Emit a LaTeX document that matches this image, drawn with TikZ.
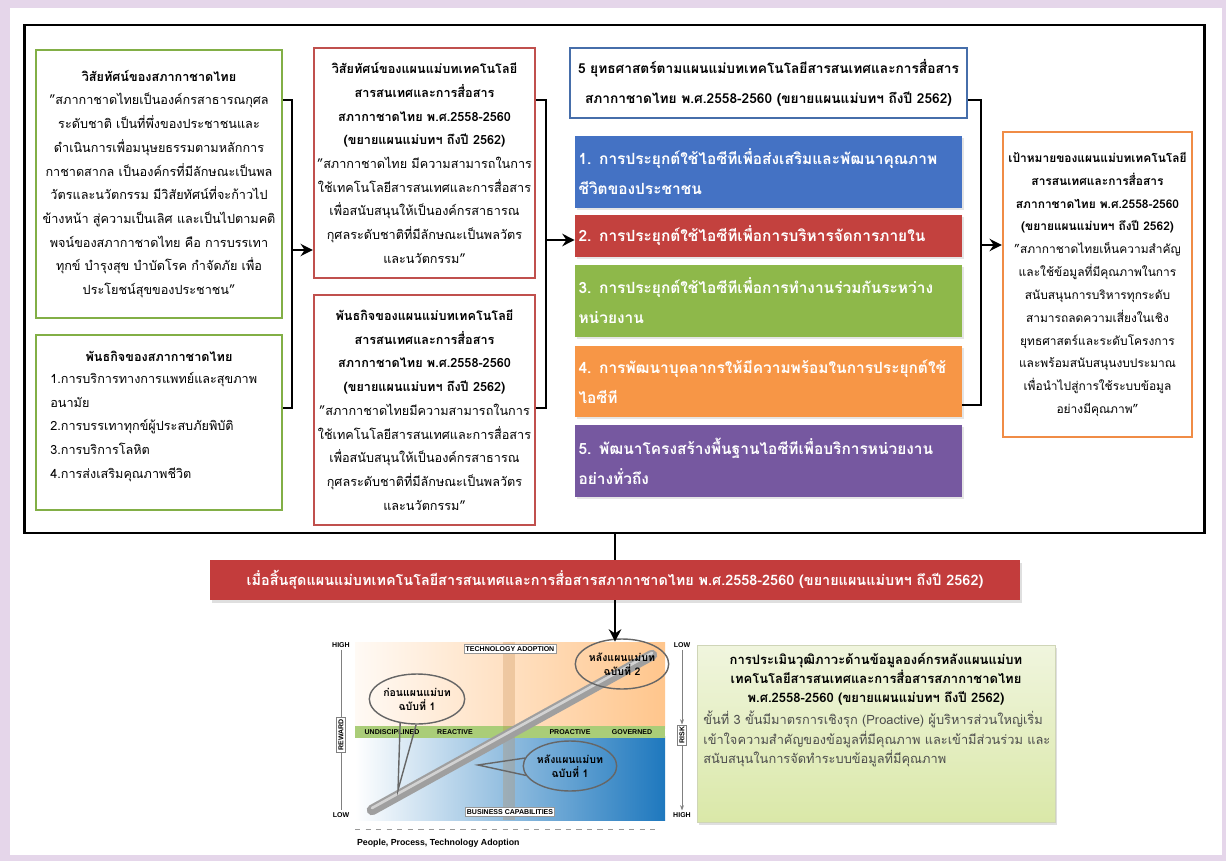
\documentclass[tikz,border=0pt]{standalone}
\usepackage{fontspec}
\setmainfont{Loma}[Script=Thai]
\newfontfamily\latinfont{Liberation Sans}
\usetikzlibrary{positioning,arrows.meta,shapes.geometric,shadows}

\definecolor{lavbg}{RGB}{229,214,234}
\definecolor{boxgreen}{RGB}{130,175,70}
\definecolor{boxred}{RGB}{192,80,77}
\definecolor{boxblue}{RGB}{70,110,170}
\definecolor{boxorange}{RGB}{240,140,70}
\definecolor{sblue}{RGB}{68,114,196}
\definecolor{sred}{RGB}{195,65,62}
\definecolor{sgreen}{RGB}{142,184,74}
\definecolor{sorange}{RGB}{247,150,70}
\definecolor{spurple}{RGB}{118,88,160}
\definecolor{bandred}{RGB}{195,60,60}
\definecolor{chartblue}{RGB}{30,120,190}
\definecolor{chartgreen}{RGB}{170,205,120}
\definecolor{notelight}{RGB}{240,245,222}
\definecolor{notedark}{RGB}{218,232,168}

\tikzset{
  boxtext/.style={inner sep=0pt, align=center, font=\fontsize{7.2}{13.5}\selectfont},
  greenbox/.style={rectangle, draw=boxgreen, line width=1.3pt, fill=white, boxtext},
  redbox/.style={rectangle, draw=boxred, line width=1.3pt, fill=white, boxtext, minimum width=4.42cm, minimum height=4.6cm},
  stratbar/.style={rectangle, fill=#1, text=white, minimum width=7.74cm, text width=7.6cm, inner xsep=2pt, align=left,
    font=\bfseries\fontsize{8.8}{17}\selectfont, drop shadow={opacity=0.2, shadow xshift=1pt, shadow yshift=-1pt}},
  brk/.style={line width=1.6pt},
  arr/.style={brk, -{Stealth[length=7pt, width=7pt]}},
  bubble/.style={ellipse, draw=black!60, thick, minimum width=1.8cm, minimum height=1cm, inner sep=0pt,
    align=center, font=\bfseries\fontsize{6}{8}\selectfont},
  chartlbl/.style={font=\latinfont\bfseries\fontsize{4}{5}\selectfont, inner sep=1pt}
}

\begin{document}
\begin{tikzpicture}[x=0.02cm, y=-0.02cm]
  \useasboundingbox (0,0) rectangle (1226,861);
  \fill[lavbg] (0,0) rectangle (1226,861);
  \fill[white] (10,8) rectangle (1222,855);

  % Frame
  \node (frame) [draw, line width=1.6pt, minimum width=23.62cm, minimum height=10.16cm] at (614.5,279) {};

  % Nodes
  \node (vision) [greenbox, minimum width=4.92cm, minimum height=5.36cm] at (159,184)
    {\textbf{วิสัยทัศน์ของสภากาชาดไทย}\\
     "สภากาชาดไทยเป็นองค์กรสาธารณกุศล\\
     ระดับชาติ เป็นที่พึ่งของประชาชนและ\\
     ดำเนินการเพื่อมนุษยธรรมตามหลักการ\\
     กาชาดสากล เป็นองค์กรที่มีลักษณะเป็นพล\\
     วัตรและนวัตกรรม มีวิสัยทัศน์ที่จะก้าวไป\\
     ข้างหน้า สู่ความเป็นเลิศ และเป็นไปตามคติ\\
     พจน์ของสภากาชาดไทย คือ การบรรเทา\\
     ทุกข์ บำรุงสุข บำบัดโรค กำจัดภัย เพื่อ\\
     ประโยชน์สุขของประชาชน"};
  \node (mission) [greenbox, minimum width=4.92cm, minimum height=3.5cm] at (159,422.5) {};
  \node (missiontitle) [boxtext] at (159,356) {\textbf{พันธกิจของสภากาชาดไทย}};
  \node (missionlist) [boxtext, align=left, anchor=north west] at (50,372)
    {1.การบริการทางการแพทย์และสุขภาพ\\
     อนามัย\\
     2.การบรรเทาทุกข์ผู้ประสบภัยพิบัติ\\
     3.การบริการโลหิต\\
     4.การส่งเสริมคุณภาพชีวิต};

  \node (planvision) [redbox] at (424.5,163)
    {\textbf{วิสัยทัศน์ของแผนแม่บทเทคโนโลยี}\\
     \textbf{สารสนเทศและการสื่อสาร}\\
     \textbf{สภากาชาดไทย พ.ศ.2558-2560}\\
     \textbf{(ขยายแผนแม่บทฯ ถึงปี 2562)}\\
     "สภากาชาดไทย มีความสามารถในการ\\
     ใช้เทคโนโลยีสารสนเทศและการสื่อสาร\\
     เพื่อสนับสนุนให้เป็นองค์กรสาธารณ\\
     กุศลระดับชาติที่มีลักษณะเป็นพลวัตร\\
     และนวัตกรรม"};
  \node (planmission) [redbox] at (424.5,410)
    {\textbf{พันธกิจของแผนแม่บทเทคโนโลยี}\\
     \textbf{สารสนเทศและการสื่อสาร}\\
     \textbf{สภากาชาดไทย พ.ศ.2558-2560}\\
     \textbf{(ขยายแผนแม่บทฯ ถึงปี 2562)}\\
     "สภากาชาดไทยมีความสามารถในการ\\
     ใช้เทคโนโลยีสารสนเทศและการสื่อสาร\\
     เพื่อสนับสนุนให้เป็นองค์กรสาธารณ\\
     กุศลระดับชาติที่มีลักษณะเป็นพลวัตร\\
     และนวัตกรรม"};

  \node (strathead) [rectangle, draw=boxblue, line width=1.3pt, fill=white, minimum width=7.94cm, minimum height=1.4cm,
    align=center, font=\bfseries\fontsize{7.8}{17}\selectfont] at (768.5,83)
    {5 ยุทธศาสตร์ตามแผนแม่บทเทคโนโลยีสารสนเทศและการสื่อสาร\\
     สภากาชาดไทย พ.ศ.2558-2560 (ขยายแผนแม่บทฯ ถึงปี 2562)};
  \node (s1) [stratbar=sblue, minimum height=1.44cm] at (768.5,172)
    {1. การประยุกต์ใช้ไอซีทีเพื่อส่งเสริมและพัฒนาคุณภาพ\\ชีวิตของประชาชน};
  \node (s2) [stratbar=sred, minimum height=0.84cm] at (768.5,236)
    {2. การประยุกต์ใช้ไอซีทีเพื่อการบริหารจัดการภายใน};
  \node (s3) [stratbar=sgreen, minimum height=1.44cm] at (768.5,301)
    {3. การประยุกต์ใช้ไอซีทีเพื่อการทำงานร่วมกันระหว่าง\\หน่วยงาน};
  \node (s4) [stratbar=sorange, minimum height=1.42cm] at (768.5,381.5)
    {4. การพัฒนาบุคลากรให้มีความพร้อมในการประยุกต์ใช้\\ไอซีที};
  \node (s5) [stratbar=spurple, minimum height=1.44cm] at (768.5,461)
    {5. พัฒนาโครงสร้างพื้นฐานไอซีทีเพื่อบริการหน่วยงาน\\อย่างทั่วถึง};

  \node (goal) [rectangle, draw=boxorange, line width=1.3pt, fill=white, minimum width=3.78cm, minimum height=6.1cm,
    boxtext, font=\fontsize{6.8}{13}\selectfont] at (1097.5,284.5)
    {\textbf{เป้าหมายของแผนแม่บทเทคโนโลยี}\\
     \textbf{สารสนเทศและการสื่อสาร}\\
     \textbf{สภากาชาดไทย พ.ศ.2558-2560}\\
     \textbf{(ขยายแผนแม่บทฯ ถึงปี 2562)}\\
     "สภากาชาดไทยเห็นความสำคัญ\\
     และใช้ข้อมูลที่มีคุณภาพในการ\\
     สนับสนุนการบริหารทุกระดับ\\
     สามารถลดความเสี่ยงในเชิง\\
     ยุทธศาสตร์และระดับโครงการ\\
     และพร้อมสนับสนุนงบประมาณ\\
     เพื่อนำไปสู่การใช้ระบบข้อมูล\\
     อย่างมีคุณภาพ"};

  \node (band) [rectangle, fill=bandred, text=white, minimum width=16.2cm, minimum height=0.8cm,
    font=\bfseries\fontsize{8.2}{10}\selectfont, drop shadow={opacity=0.25, shadow xshift=1pt, shadow yshift=-1.5pt}] at (615,580)
    {เมื่อสิ้นสุดแผนแม่บทเทคโนโลยีสารสนเทศและการสื่อสารสภากาชาดไทย พ.ศ.2558-2560 (ขยายแผนแม่บทฯ ถึงปี 2562)};

  % Chart
  \node (chart) [rectangle, minimum width=6.2cm, minimum height=3.56cm, inner sep=0pt] at (510,731) {};
  \shade[left color=orange!4, right color=orange!45] (355,642) rectangle (665,728);
  \shade[left color=white, right color=chartblue] (355,736) rectangle (665,820);
  \fill[chartgreen] (355,726) rectangle (665,738);
  \fill[brown, opacity=0.25] (503,642) rectangle (515,820);
  \node (undisc) [chartlbl] at (392,732) {UNDISCIPLINED};
  \node (react) [chartlbl] at (455,732) {REACTIVE};
  \node (proact) [chartlbl] at (570,732) {PROACTIVE};
  \node (govern) [chartlbl] at (632,732) {GOVERNED};
  \node (techadopt) [chartlbl, draw=black!40, fill=white] at (510,649) {TECHNOLOGY ADOPTION};
  \node (buscap) [chartlbl, draw=black!40, fill=white] at (510,812) {BUSINESS CAPABILITIES};
  \draw[line width=6pt, gray!75, line cap=round] (372,810) -- (652,655);
  \draw[line width=1.5pt, gray!35, line cap=round] (372,808) -- (652,653);
  \node (lhigh) [chartlbl] at (341,645) {HIGH};
  \node (llow) [chartlbl] at (341,815) {LOW};
  \node (reward) [chartlbl, draw=black!50, fill=white, rotate=90] at (341,735) {REWARD};
  \draw[black!50] (lhigh) -- (reward) -- (llow);
  \node (rlow) [chartlbl] at (682,645) {LOW};
  \node (rhigh) [chartlbl] at (682,815) {HIGH};
  \node (risk) [chartlbl, draw=black!50, fill=white, rotate=90] at (682,735) {RISK};
  \draw[black!50, -{Stealth[length=3pt]}] (rlow) -- (risk);
  \draw[black!50, -{Stealth[length=3pt]}] (risk) -- (rhigh);
  \node (axisname) [chartlbl, anchor=west, font=\latinfont\bfseries\fontsize{5}{6}\selectfont] at (355,843) {People, Process, Technology Adoption};
  \coordinate (axisend) at (655,829);
  \draw[black!40, dashed] (axisname.north west |- axisend) -- (axisend);
  \node (before1) [bubble] at (417,699) {ก่อนแผนแม่บท\\ฉบับที่ 1};
  \node (after2) [bubble] at (622,664) {หลังแผนแม่บท\\ฉบับที่ 2};
  \node (after1) [bubble] at (570,766) {หลังแผนแม่บท\\ฉบับที่ 1};
  \coordinate (tip1) at (398,790);
  \coordinate (tip3) at (478,765);
  \draw[black!60, thick] (before1.235) -- (tip1) -- (before1.268);
  \draw[black!60, thick] (after1.170) -- (tip3) -- (after1.192);

  % Note
  \node (note) [rectangle, draw=notedark!80!black!60, shade, top color=notelight, bottom color=notedark,
    minimum width=7.16cm, minimum height=3.54cm, drop shadow={opacity=0.25, shadow xshift=1pt, shadow yshift=-1.5pt}] at (876,733.5) {};
  \node (notetitle) [boxtext, font=\bfseries\fontsize{7.4}{11}\selectfont] at (876,679)
    {การประเมินวุฒิภาวะด้านข้อมูลองค์กรหลังแผนแม่บท\\
     เทคโนโลยีสารสนเทศและการสื่อสารสภากาชาดไทย\\
     พ.ศ.2558-2560 (ขยายแผนแม่บทฯ ถึงปี 2562)};
  \node (notebody) [boxtext, align=left, anchor=north west, text=black!70, font=\fontsize{7.3}{11}\selectfont] at (703,711)
    {ขั้นที่ 3 ขั้นมีมาตรการเชิงรุก (Proactive) ผู้บริหารส่วนใหญ่เริ่ม\\
     เข้าใจความสำคัญของข้อมูลที่มีคุณภาพ และเข้ามีส่วนร่วม และ\\
     สนับสนุนในการจัดทำระบบข้อมูลที่มีคุณภาพ};

  % Arrow
  \coordinate (j1a) at (292,100);
  \coordinate (j1b) at (292,408);
  \coordinate (j1m) at (292,250);
  \draw[brk] (vision.east |- j1a) -- (j1a) -- (j1b) -- (mission.east |- j1b);
  \draw[arr] (j1m) -- (planvision.west |- j1m);
  \coordinate (j2a) at (546,100);
  \coordinate (j2b) at (546,408);
  \coordinate (j2m) at (546,240);
  \draw[brk] (planvision.east |- j2a) -- (j2a) -- (j2b) -- (planmission.east |- j2b);
  \draw[arr] (j2m) -- (s2.west |- j2m);
  \coordinate (j3a) at (981,100);
  \coordinate (j3b) at (981,405);
  \coordinate (j3m) at (981,245);
  \draw[brk] (strathead.east |- j3a) -- (j3a) -- (j3b) -- (s4.east |- j3b);
  \draw[arr] (j3m) -- (goal.west |- j3m);
  \draw[brk] (frame.south -| band.north) -- (band.north);
  \draw[arr] (band.south) -- (band.south |- chart.north);
\end{tikzpicture}
\end{document}
